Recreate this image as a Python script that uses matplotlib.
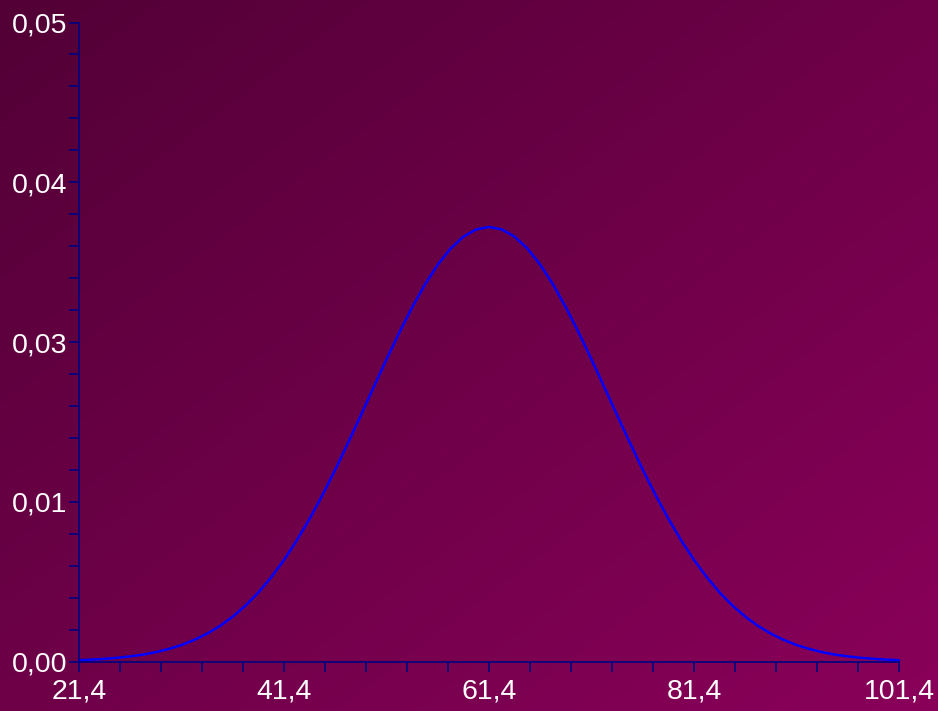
import numpy as np
import matplotlib
matplotlib.use("Agg")
import matplotlib.pyplot as plt
from matplotlib.ticker import FixedLocator

# ---- data ----
x_start = 21.4
x_step = 1.25
density = [
    0.00010, 0.00015, 0.00021, 0.00029, 0.00040, 0.00054, 0.00073, 0.00098,
    0.00129, 0.00169, 0.00218, 0.00278, 0.00351, 0.00438, 0.00540, 0.00659,
    0.00795, 0.00948, 0.01117, 0.01302, 0.01501, 0.01711, 0.01927, 0.02147,
    0.02364, 0.02574, 0.02771, 0.02950, 0.03105, 0.03231, 0.03324, 0.03381,
    0.03400,
    0.03381, 0.03324, 0.03231, 0.03105, 0.02950, 0.02771, 0.02574, 0.02364,
    0.02147, 0.01927, 0.01711, 0.01501, 0.01302, 0.01117, 0.00948, 0.00795,
    0.00659, 0.00540, 0.00438, 0.00351, 0.00278, 0.00218, 0.00169, 0.00129,
    0.00098, 0.00073, 0.00054, 0.00040, 0.00029, 0.00021, 0.00015, 0.00010,
]
x_values = [round(x_start + i * x_step, 2) for i in range(len(density))]

x_ticks = [21.4, 41.4, 61.4, 81.4, 101.4]
x_tick_labels = ["21,4", "41,4", "61,4", "81,4", "101,4"]
x_minor_step = 4.0
y_ticks = [0.0, 0.0125, 0.025, 0.0375, 0.05]
y_tick_labels = ["0,00", "0,01", "0,03", "0,04", "0,05"]
y_minor_step = 0.0025

# ---- figure ----
W, H, DPI = 938, 711, 100
fig = plt.figure(figsize=(W / DPI, H / DPI), dpi=DPI)

# diagonal gradient background
c0 = np.array([0x52, 0x00, 0x36]) / 255.0
c1 = np.array([0x8A, 0x00, 0x5A]) / 255.0
u = np.linspace(0, 1, W)[None, :]
v = np.linspace(0, 1, H)[:, None]
t = (u + v) / 2.0
grad = c0[None, None, :] + (c1 - c0)[None, None, :] * t[:, :, None]
bg = fig.add_axes([0, 0, 1, 1], zorder=-10)
bg.imshow(grad, aspect="auto", extent=[0, 1, 0, 1], origin="upper")
bg.set_axis_off()

left, right = 79 / W, 899 / W
bottom, top = (H - 661.5) / H, (H - 22.5) / H
ax = fig.add_axes([left, bottom, right - left, top - bottom])
ax.patch.set_alpha(0)

ax.plot(x_values, density, color="#0000FF", lw=1.8, solid_capstyle="round", clip_on=False)

ax.set_xlim(x_ticks[0], x_ticks[-1])
ax.set_ylim(y_ticks[0], y_ticks[-1])

navy = "#000080"
for s in ["top", "right"]:
    ax.spines[s].set_visible(False)
for s in ["left", "bottom"]:
    ax.spines[s].set_color(navy)
    ax.spines[s].set_linewidth(1.2)

x_minor = np.arange(x_ticks[0], x_ticks[-1] + 1e-9, x_minor_step)
y_minor = np.arange(y_ticks[0], y_ticks[-1] + 1e-12, y_minor_step)

ax.xaxis.set_major_locator(FixedLocator(x_ticks))
ax.set_xticklabels(x_tick_labels)
ax.xaxis.set_minor_locator(FixedLocator(x_minor))
ax.yaxis.set_major_locator(FixedLocator(y_ticks))
ax.set_yticklabels(y_tick_labels)
ax.yaxis.set_minor_locator(FixedLocator(y_minor))

font = "Liberation Sans"
for lab in ax.get_xticklabels() + ax.get_yticklabels():
    lab.set_fontfamily(font)
    lab.set_fontsize(20.5)
    lab.set_color("white")

ax.tick_params(axis="both", which="both", direction="out", length=7.2,
               width=1.2, color=navy)
ax.tick_params(axis="x", which="major", pad=5)
ax.tick_params(axis="y", which="major", pad=1.5)

fig.savefig("out.png", dpi=DPI)
